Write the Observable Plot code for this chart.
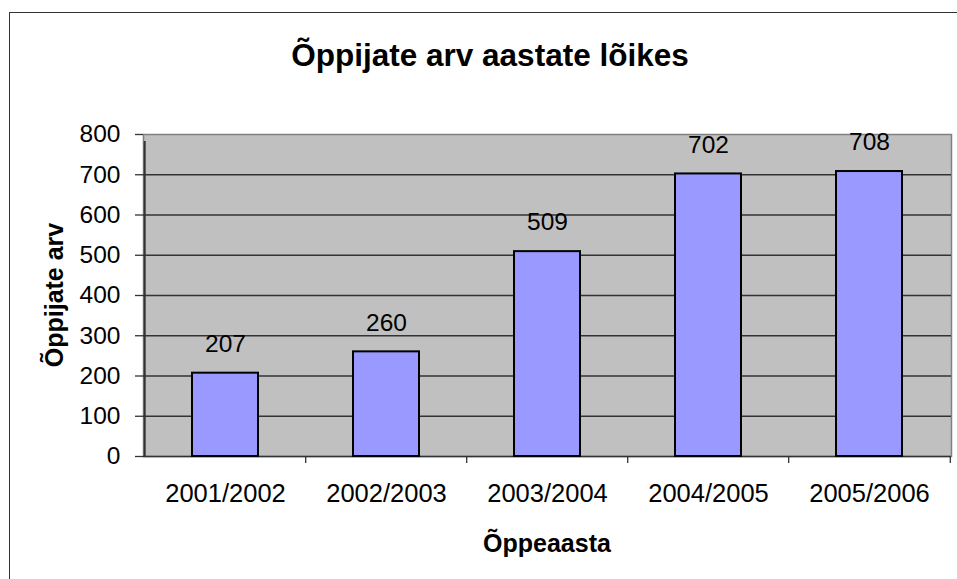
<!DOCTYPE html>
<html><head><meta charset="utf-8">
<script src="https://cdn.jsdelivr.net/npm/d3@7"></script>
<script src="https://cdn.jsdelivr.net/npm/@observablehq/plot@0.6"></script>
<style>
body{margin:0;background:#fff;font-family:"Liberation Sans",Arial,sans-serif;}
#wrap{position:relative;width:957px;height:579px;overflow:hidden;background:#fff;}
#border{position:absolute;left:8.5px;top:11.5px;width:1000px;height:1000px;border-left:1.6px solid #333;border-top:1.6px solid #333;}
#chart{position:absolute;left:0;top:0;}
.t{position:absolute;font-weight:bold;color:#000;white-space:nowrap;text-align:center;}
#title{left:190px;width:600px;top:40px;font-size:31.5px;line-height:31px;}
#ytitle{left:-96px;top:283px;width:300px;font-size:25px;line-height:24px;transform:rotate(-90deg);}
#xtitle{left:397px;width:300px;top:531px;font-size:25px;line-height:24px;}
</style></head><body>
<div id="wrap">
<div id="border"></div>
<div id="chart"></div>
<div id="title" class="t">Õppijate arv aastate lõikes</div>
<div id="ytitle" class="t">Õppijate arv</div>
<div id="xtitle" class="t">Õppeaasta</div>
</div>
<script>
const years = ["2001/2002", "2002/2003", "2003/2004", "2004/2005", "2005/2006"];
const counts = [207, 260, 509, 702, 708];
const yTicks = [0, 100, 200, 300, 400, 500, 600, 700, 800];
const gridValues = [0, 100, 200, 300, 400, 500, 600, 700];

const data = years.map((y, i) => ({year: y, count: counts[i]}));

const W = 957, H = 579, mL = 143, mR = 6, mT = 134, mB = 123;
const step = (W - mL - mR) / years.length;

const chart = Plot.plot({
  width: W, height: H,
  marginLeft: mL, marginRight: mR, marginTop: mT, marginBottom: mB,
  style: {fontFamily: '"Liberation Sans", Arial, sans-serif', background: "transparent", color: "#000"},
  x: {type: "band", domain: years, paddingInner: 0.592, paddingOuter: 0.296, align: 0.5},
  y: {domain: [0, 800]},
  marks: [
    Plot.frame({fill: "#C0C0C0", stroke: "#808080", strokeWidth: 1.5}),
    Plot.ruleY(gridValues, {stroke: "#333", strokeWidth: 1.3}),
    Plot.ruleX([years[0]], {x: d => d, y1: 0, y2: 800, dx: -step / 2, insetBottom: -7, stroke: "#333", strokeWidth: 2}),
    Plot.ruleX(years.slice(1), {x: d => d, y1: 0, y2: 0, dx: -step / 2, insetBottom: -7, stroke: "#333", strokeWidth: 1.3}),
    Plot.ruleX([years[years.length - 1]], {x: d => d, y1: 0, y2: 0, dx: step / 2, insetBottom: -7, stroke: "#333", strokeWidth: 1.3}),
    Plot.barY(data, {x: "year", y: "count", fill: "#9999FF", stroke: "#000", strokeWidth: 2}),
    Plot.text(data, {x: "year", y: "count", text: d => String(d.count), dy: -29, lineAnchor: "middle", fontSize: 24.5, fill: "#000"}),
    Plot.axisY({ticks: yTicks, tickSize: 8, tickPadding: 15, fontSize: 24.5, stroke: "#333", strokeWidth: 1.3, label: null, tickFormat: d => String(d)}),
    Plot.axisX({tickSize: 0, tickPadding: 27, fontSize: 25.5, label: null})
  ]
});
document.getElementById("chart").appendChild(chart);
</script>
</body></html>
